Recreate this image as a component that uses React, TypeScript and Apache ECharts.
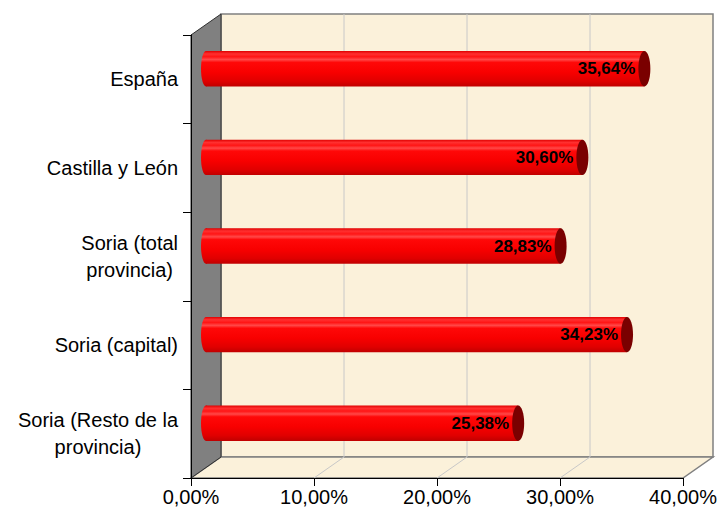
import React, { useEffect, useRef } from "react";
import * as echarts from "echarts";

const categories = [
  "España",
  "Castilla y León",
  "Soria (total\nprovincia)",
  "Soria (capital)",
  "Soria (Resto de la\nprovincia)",
];
const values = [35.64, 30.6, 28.83, 34.23, 25.38];
const xTicks = [0, 10, 20, 30, 40];

const DEPTH_X = 30;
const DEPTH_Y = -21;
const WALL = "#FBF1DA";
const FONT = "'Liberation Sans', Arial, sans-serif";

const fmt = (v: number) => v.toFixed(2).replace(".", ",") + "%";

export default function App() {
  const ref = useRef<HTMLDivElement>(null);
  useEffect(() => {
    if (!ref.current) return;
    const chart = echarts.init(ref.current, null, { renderer: "svg" });
    const xMax = xTicks[xTicks.length - 1];

    const frameItem = (params: any, api: any) => {
      const p0 = api.coord([0, 0]);
      const pR = api.coord([xMax, 0]);
      const bandH = api.size([0, 1])[1];
      const yTop = p0[1] - bandH / 2;
      const yBot = api.coord([0, categories.length - 1])[1] + bandH / 2;
      const xL = p0[0];
      const xR = pR[0];
      const children: any[] = [
        {
          type: "rect",
          shape: { x: xL + DEPTH_X, y: yTop + DEPTH_Y, width: xR - xL, height: yBot - yTop },
          style: { fill: WALL, stroke: "#808080", lineWidth: 1.5 },
        },
        {
          type: "polygon",
          shape: {
            points: [
              [xL, yBot],
              [xL + DEPTH_X, yBot + DEPTH_Y],
              [xR + DEPTH_X, yBot + DEPTH_Y],
              [xR, yBot],
            ],
          },
          style: { fill: WALL, stroke: "#808080", lineWidth: 1.5 },
        },
      ];
      xTicks.forEach((t) => {
        if (t === 0 || t === xMax) return;
        const x = api.coord([t, 0])[0];
        children.push({
          type: "line",
          shape: { x1: x + DEPTH_X, y1: yTop + DEPTH_Y, x2: x + DEPTH_X, y2: yBot + DEPTH_Y },
          style: { stroke: "#C8C8C8", lineWidth: 1 },
        });
        children.push({
          type: "line",
          shape: { x1: x, y1: yBot, x2: x + DEPTH_X, y2: yBot + DEPTH_Y },
          style: { stroke: "#C8C8C8", lineWidth: 1 },
        });
      });
      children.push({
        type: "polygon",
        shape: {
          points: [
            [xL, yTop],
            [xL + DEPTH_X, yTop + DEPTH_Y],
            [xL + DEPTH_X, yBot + DEPTH_Y],
            [xL, yBot],
          ],
        },
        style: { fill: "#808080", stroke: "#303030", lineWidth: 1 },
      });
      return { type: "group", children };
    };

    const barItem = (params: any, api: any) => {
      const v = api.value(0);
      const idx = api.value(1);
      const s = api.coord([0, idx]);
      const e = api.coord([v, idx]);
      const bandH = api.size([0, 1])[1];
      const h = bandH * 0.2;
      const x0 = s[0] + DEPTH_X / 2;
      const x1 = e[0] + DEPTH_X / 2;
      const cy = s[1] + DEPTH_Y / 2;
      const grad = () =>
        new echarts.graphic.LinearGradient(0, 0, 0, 1, [
          { offset: 0, color: "#E00000" },
          { offset: 0.08, color: "#FF3030" },
          { offset: 0.16, color: "#FF1515" },
          { offset: 0.24, color: "#FF4848" },
          { offset: 0.32, color: "#FF0808" },
          { offset: 0.6, color: "#F80000" },
          { offset: 0.85, color: "#E00000" },
          { offset: 1, color: "#C00000" },
        ]);
      return {
        type: "group",
        children: [
          { type: "ellipse", shape: { cx: x0, cy, rx: 5, ry: h }, style: { fill: grad() } },
          {
            type: "rect",
            shape: { x: x0, y: cy - h, width: x1 - x0, height: 2 * h },
            style: { fill: grad() },
          },
          { type: "ellipse", shape: { cx: x1, cy, rx: 6, ry: h }, style: { fill: "#7A0000" } },
          {
            type: "text",
            style: {
              x: x1 - 9,
              y: cy,
              text: fmt(v),
              align: "right",
              verticalAlign: "middle",
              fill: "#000",
              font: `bold 17px ${FONT}`,
            },
          },
        ],
      };
    };

    chart.setOption({
      animation: false,
      backgroundColor: "#FFFFFF",
      grid: { left: 191, right: 35, top: 35, bottom: 36, outerBoundsMode: "none" },
      xAxis: {
        type: "value",
        min: 0,
        max: xMax,
        interval: 10,
        z: 10,
        axisLine: { show: true, lineStyle: { color: "#000", width: 1 } },
        axisTick: { show: true, length: 8, lineStyle: { color: "#000" } },
        axisLabel: {
          margin: 9,
          color: "#000",
          fontSize: 20,
          fontFamily: FONT,
          formatter: (v: number) => fmt(v),
        },
        splitLine: { show: false },
      },
      yAxis: {
        type: "category",
        inverse: true,
        data: categories,
        z: 10,
        axisLine: { show: true, lineStyle: { color: "#000", width: 1 } },
        axisTick: { show: true, length: 8, lineStyle: { color: "#000" } },
        axisLabel: {
          margin: 13,
          color: "#000",
          fontSize: 20,
          fontFamily: FONT,
          lineHeight: 27,
          formatter: (v: string) =>
            v
              .split("\n")
              .map((l) => `{c|${l}}`)
              .join("\n"),
          rich: {
            c: { align: "center", fontSize: 20, fontFamily: FONT, color: "#000", lineHeight: 27 },
          },
        },
      },
      series: [
        {
          type: "custom",
          coordinateSystem: "cartesian2d",
          renderItem: frameItem,
          data: [[0, 0]],
          z: 1,
          clip: false,
          silent: true,
        },
        {
          type: "custom",
          coordinateSystem: "cartesian2d",
          renderItem: barItem,
          data: values.map((v, i) => [v, i]),
          encode: { x: 0, y: 1 },
          z: 5,
          clip: false,
        },
      ],
    });
    return () => chart.dispose();
  }, []);
  return (
    <div
      ref={ref}
      style={{ position: "absolute", left: 0, top: 0, width: 718, height: 514 }}
    />
  );
}
